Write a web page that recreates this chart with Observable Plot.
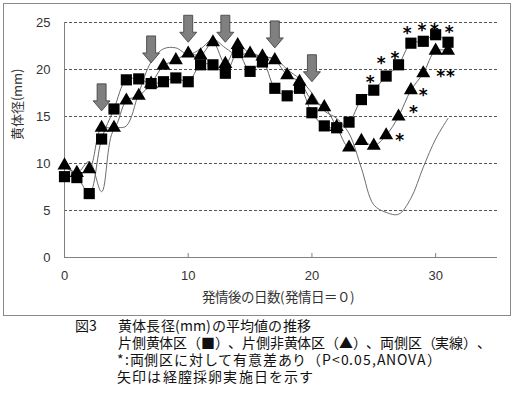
<!DOCTYPE html>
<html><head><meta charset="utf-8">
<script src="https://cdn.jsdelivr.net/npm/d3@7"></script>
<script src="https://cdn.jsdelivr.net/npm/@observablehq/plot@0.6"></script>
<style>
@font-face{font-family:"CapJP";src:local("Noto Sans CJK JP"),local("Noto Sans CJK JP Regular"),local("NotoSansCJKjp-Regular");ascent-override:88%;descent-override:12%;line-gap-override:0%;}
body{margin:0;background:#fff;width:518px;height:394px;position:relative;overflow:hidden;font-family:"CapJP","Noto Sans CJK JP",sans-serif;text-spacing-trim:space-all;}
#frame{position:absolute;left:3px;top:3px;width:506px;height:311px;border:1px solid #8a8a8a;}
#chart{position:absolute;left:0;top:0;}
#fig{position:absolute;left:75px;top:318px;font-size:14px;line-height:17px;color:#111;}
#caption{position:absolute;left:118px;top:318px;font-size:14px;line-height:17px;color:#111;white-space:nowrap;}
#caption div:nth-child(1){letter-spacing:0.2px;}
#caption div:nth-child(2){letter-spacing:-0.2px;}
#caption div:nth-child(3){letter-spacing:0.8px;margin-left:-1px;}
#caption div:nth-child(4){letter-spacing:1.2px;margin-left:-1px;}
</style></head><body>
<div id="frame"></div>
<div id="chart"></div>
<div id="fig">図3</div>
<div id="caption"></div>
<script>
const days = [0,1,2,3,4,5,6,7,8,9,10,11,12,13,14,15,16,17,18,19,20,21,22,23,24,25,26,27,28,29,30,31];
const oneSideCL = [8.6,8.5,6.8,12.6,15.8,18.9,19.0,18.5,18.7,19.1,18.7,20.5,20.5,19.6,21.8,19.8,20.8,18.0,17.2,18.0,15.4,14.0,13.8,14.4,16.8,17.8,19.3,20.5,22.8,23.0,23.7,22.9];
const oneSideNonCL = [9.8,9.0,9.4,13.8,13.8,16.7,17.2,18.5,20.4,21.0,21.7,21.5,22.9,20.6,22.6,21.7,21.4,21.0,19.4,18.7,16.7,16.0,13.9,11.7,12.4,11.9,13.0,15.0,17.8,19.6,22.0,22.0];
const bothSides = [9.7,9.0,10.2,7.0,13.6,14.0,17.5,20.8,22.2,22.3,21.6,22.2,23.2,22.3,21.5,21.8,21.3,21.2,20.0,19.0,17.5,15.6,14.8,13.2,9.5,5.6,4.8,4.6,6.3,9.6,12.6,14.8];
const arrowDays = [3,7,10,13,17,20];
const arrowTips = [15.6,20.7,22.9,22.9,22.3,18.7];
const starDays = [24.7,25.6,26.7,27.7,28.9,29.9,31.1,27.1,28.2,29.0,30.4,31.2];
const starVals = [19.15,21.2,21.7,24.4,24.7,24.7,24.5,13.0,15.9,17.8,19.8,19.8];
const xTicks = [0,10,20,30];
const yTicks = [0,5,10,15,20,25];
const xTitle = "発情後の日数(発情日＝０)";
const yTitle = "黄体径(mm)";
const captionLines = [
  "黄体長径(mm)の平均値の推移",
  "片側黄体区（■）、片側非黄体区（▲）、両側区（実線）、",
  "*:両側区に対して有意差あり（P<0.05,ANOVA）",
  "矢印は経膣採卵実施日を示す"
];

const sq = days.map((d,i)=>({day:d, v:oneSideCL[i]}));
const tri = days.map((d,i)=>({day:d, v:oneSideNonCL[i]}));
const both = days.map((d,i)=>({day:d, v:bothSides[i]}));
const arrows = arrowDays.map((d,i)=>({day:d, v:arrowTips[i]}));
const stars = starDays.map((d,i)=>({day:d, v:starVals[i]}));

const arrowSymbol = {draw(ctx){
  ctx.moveTo(-4.5,-27); ctx.lineTo(4.5,-27); ctx.lineTo(4.5,-10); ctx.lineTo(8.5,-10);
  ctx.lineTo(0,0); ctx.lineTo(-8.5,-10); ctx.lineTo(-4.5,-10); ctx.closePath();
}};

const chart = Plot.plot({
  width:518, height:318,
  marginLeft:64, marginRight:21, marginTop:22, marginBottom:61,
  x:{domain:[0,35]}, y:{domain:[0,25]},
  style:{fontFamily:"'Liberation Sans', Arial, sans-serif", fontSize:"13px", color:"#333", background:"transparent", overflow:"visible"},
  marks:[
    Plot.gridY(yTicks.filter(t=>t>0), {stroke:"#555", strokeOpacity:1, strokeDasharray:"3,2"}),
    Plot.ruleX([0], {stroke:"#808080"}),
    Plot.ruleY([0], {stroke:"#808080"}),
    Plot.axisX(xTicks.slice(1), {tickSize:4, dy:-4, tickFormat:()=>"", label:null, stroke:"#808080"}),
    Plot.axisX(xTicks, {tickSize:0, tickPadding:13, label:null}),
    Plot.axisY(yTicks, {tickSize:0, tickPadding:14, label:null}),
    Plot.text([xTitle], {frameAnchor:"bottom", dy:44, dx:-3, fontFamily:"CapJP, Noto Sans CJK JP", fontSize:13.5, fill:"#333"}),
    Plot.text([yTitle], {frameAnchor:"left", dx:-47, rotate:-90, fontFamily:"CapJP, Noto Sans CJK JP", fontSize:13, fill:"#333"}),
    Plot.line(both, {x:"day", y:"v", curve:"catmull-rom", stroke:"#6e6e6e", strokeWidth:1}),
    Plot.line(sq, {x:"day", y:"v", curve:"catmull-rom", stroke:"#666", strokeWidth:1}),
    Plot.line(tri, {x:"day", y:"v", curve:"catmull-rom", stroke:"#666", strokeWidth:1}),
    Plot.dot(sq, {x:"day", y:"v", symbol:"square", r:6.3, fill:"#000"}),
    Plot.dot(tri, {x:"day", y:"v", symbol:"triangle", r:5.2, fill:"#000"}),
    Plot.text(stars, {x:"day", y:"v", text:()=>"*", fontFamily:"DejaVu Sans", fontSize:17, fontWeight:"bold", dy:5, fill:"#000"}),
    Plot.dot(arrows, {x:"day", y:"v", symbol:arrowSymbol, fill:"#808080", stroke:"#3a3a3a", strokeWidth:0.8})
  ]
});
document.getElementById("chart").appendChild(chart);
document.getElementById("caption").innerHTML = captionLines.map(t=>`<div>${t}</div>`).join("");
</script>
</body></html>
